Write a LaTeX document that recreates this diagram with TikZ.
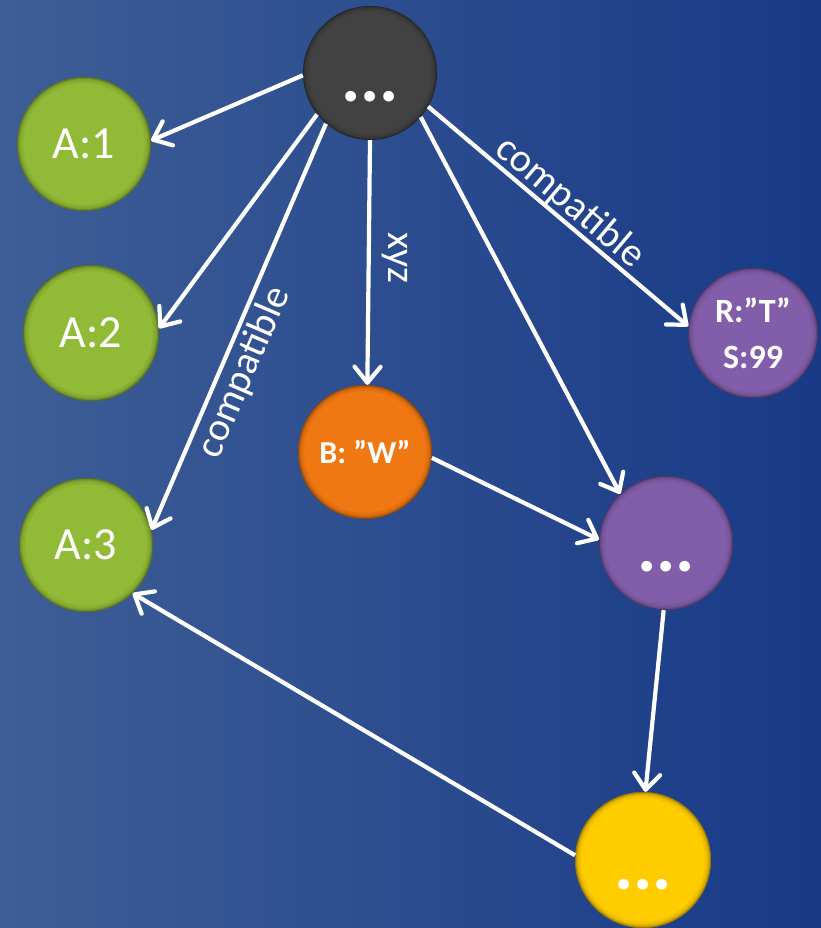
\documentclass[tikz,border=0pt]{standalone}
\usepackage{fontspec}
\setmainfont{Carlito}
\usetikzlibrary{arrows.meta}

\definecolor{bgleft}{RGB}{62,94,150}
\definecolor{bgright}{RGB}{24,58,135}
\definecolor{ballgray}{RGB}{66,66,66}
\definecolor{ballgreen}{RGB}{145,186,54}
\definecolor{ballorange}{RGB}{240,120,18}
\definecolor{ballpurple}{RGB}{130,94,170}
\definecolor{ballyellow}{RGB}{255,204,0}

\tikzset{
  ball/.style 2 args={circle, minimum size=2*#2, inner sep=0pt, fill=#1, text=white,
    path picture={
      % soft darker rim
      \foreach \w/\o in {12/0.05,7/0.08,4/0.12,1.6/0.22}
        \draw[black, opacity=\o, line width=\w pt]
          (path picture bounding box.center) circle (#2);
    }},
  bigtext/.style={font=\fontsize{46}{55}\selectfont},
  dots/.style={font=\fontsize{72}{80}\selectfont\bfseries},
  arr/.style={draw=white, line width=4.2pt,
    -{Straight Barb[length=16pt, width=26pt, round]}},
  edgelbl/.style={text=white, font=\fontsize{40}{48}\selectfont, inner sep=3pt},
}

\begin{document}
\begin{tikzpicture}[x=1pt, y=-1pt]
  % background
  \shade[left color=bgleft, right color=bgright] (0,0) rectangle (821,928);
  \useasboundingbox (0,0) rectangle (821,928);

  % nodes
  \node[ball={ballgray}{67pt}, dots]   (top) at (370,73)
    {\raisebox{-29pt}[0pt][0pt]{...}};
  \node[ball={ballgreen}{67pt}, bigtext] (a1) at (84,144) {A:1};
  \node[ball={ballgreen}{68pt}, bigtext] (a2) at (91,333) {A:2};
  \node[ball={ballgreen}{67pt}, bigtext] (a3) at (86,545) {A:3};
  \node[ball={ballorange}{67pt}, font=\fontsize{32}{38}\selectfont\bfseries]
    (b) at (365,452) {B: ”W”};
  \node[ball={ballpurple}{65pt}, align=center,
        font=\fontsize{34}{46}\selectfont\bfseries]
    (r) at (753,333) {R:”T”\\S:99};
  \node[ball={ballpurple}{67pt}, dots] (m) at (666,543)
    {\raisebox{-28pt}[0pt][0pt]{...}};
  \node[ball={ballyellow}{68pt}, dots] (y) at (643,860)
    {\raisebox{-29pt}[0pt][0pt]{...}};

  % connectors
  \draw[arr] (top.182) -- (a1.3);
  \draw[arr] (top.218) -- (a2.4);
  \draw[arr] (top.229) -- node[edgelbl, sloped, pos=0.59, anchor=north, outer sep=3pt] {compatible} (a3.13);
  \draw[arr] (top.270) -- node[edgelbl, rotate=-90, pos=0.48, anchor=south, outer sep=10pt] {xyz} (b.88);
  \draw[arr] (top.319) -- (m.133);
  \draw[arr] (top.330) -- node[edgelbl, sloped, pos=0.5, anchor=south, outer sep=-2pt] {compatible} (r.174);
  \draw[arr] (b.355) -- (m.177);
  \draw[arr] (m.268) -- (y.88);
  \draw[arr] (y.176) -- (a3.314);
\end{tikzpicture}
\end{document}
